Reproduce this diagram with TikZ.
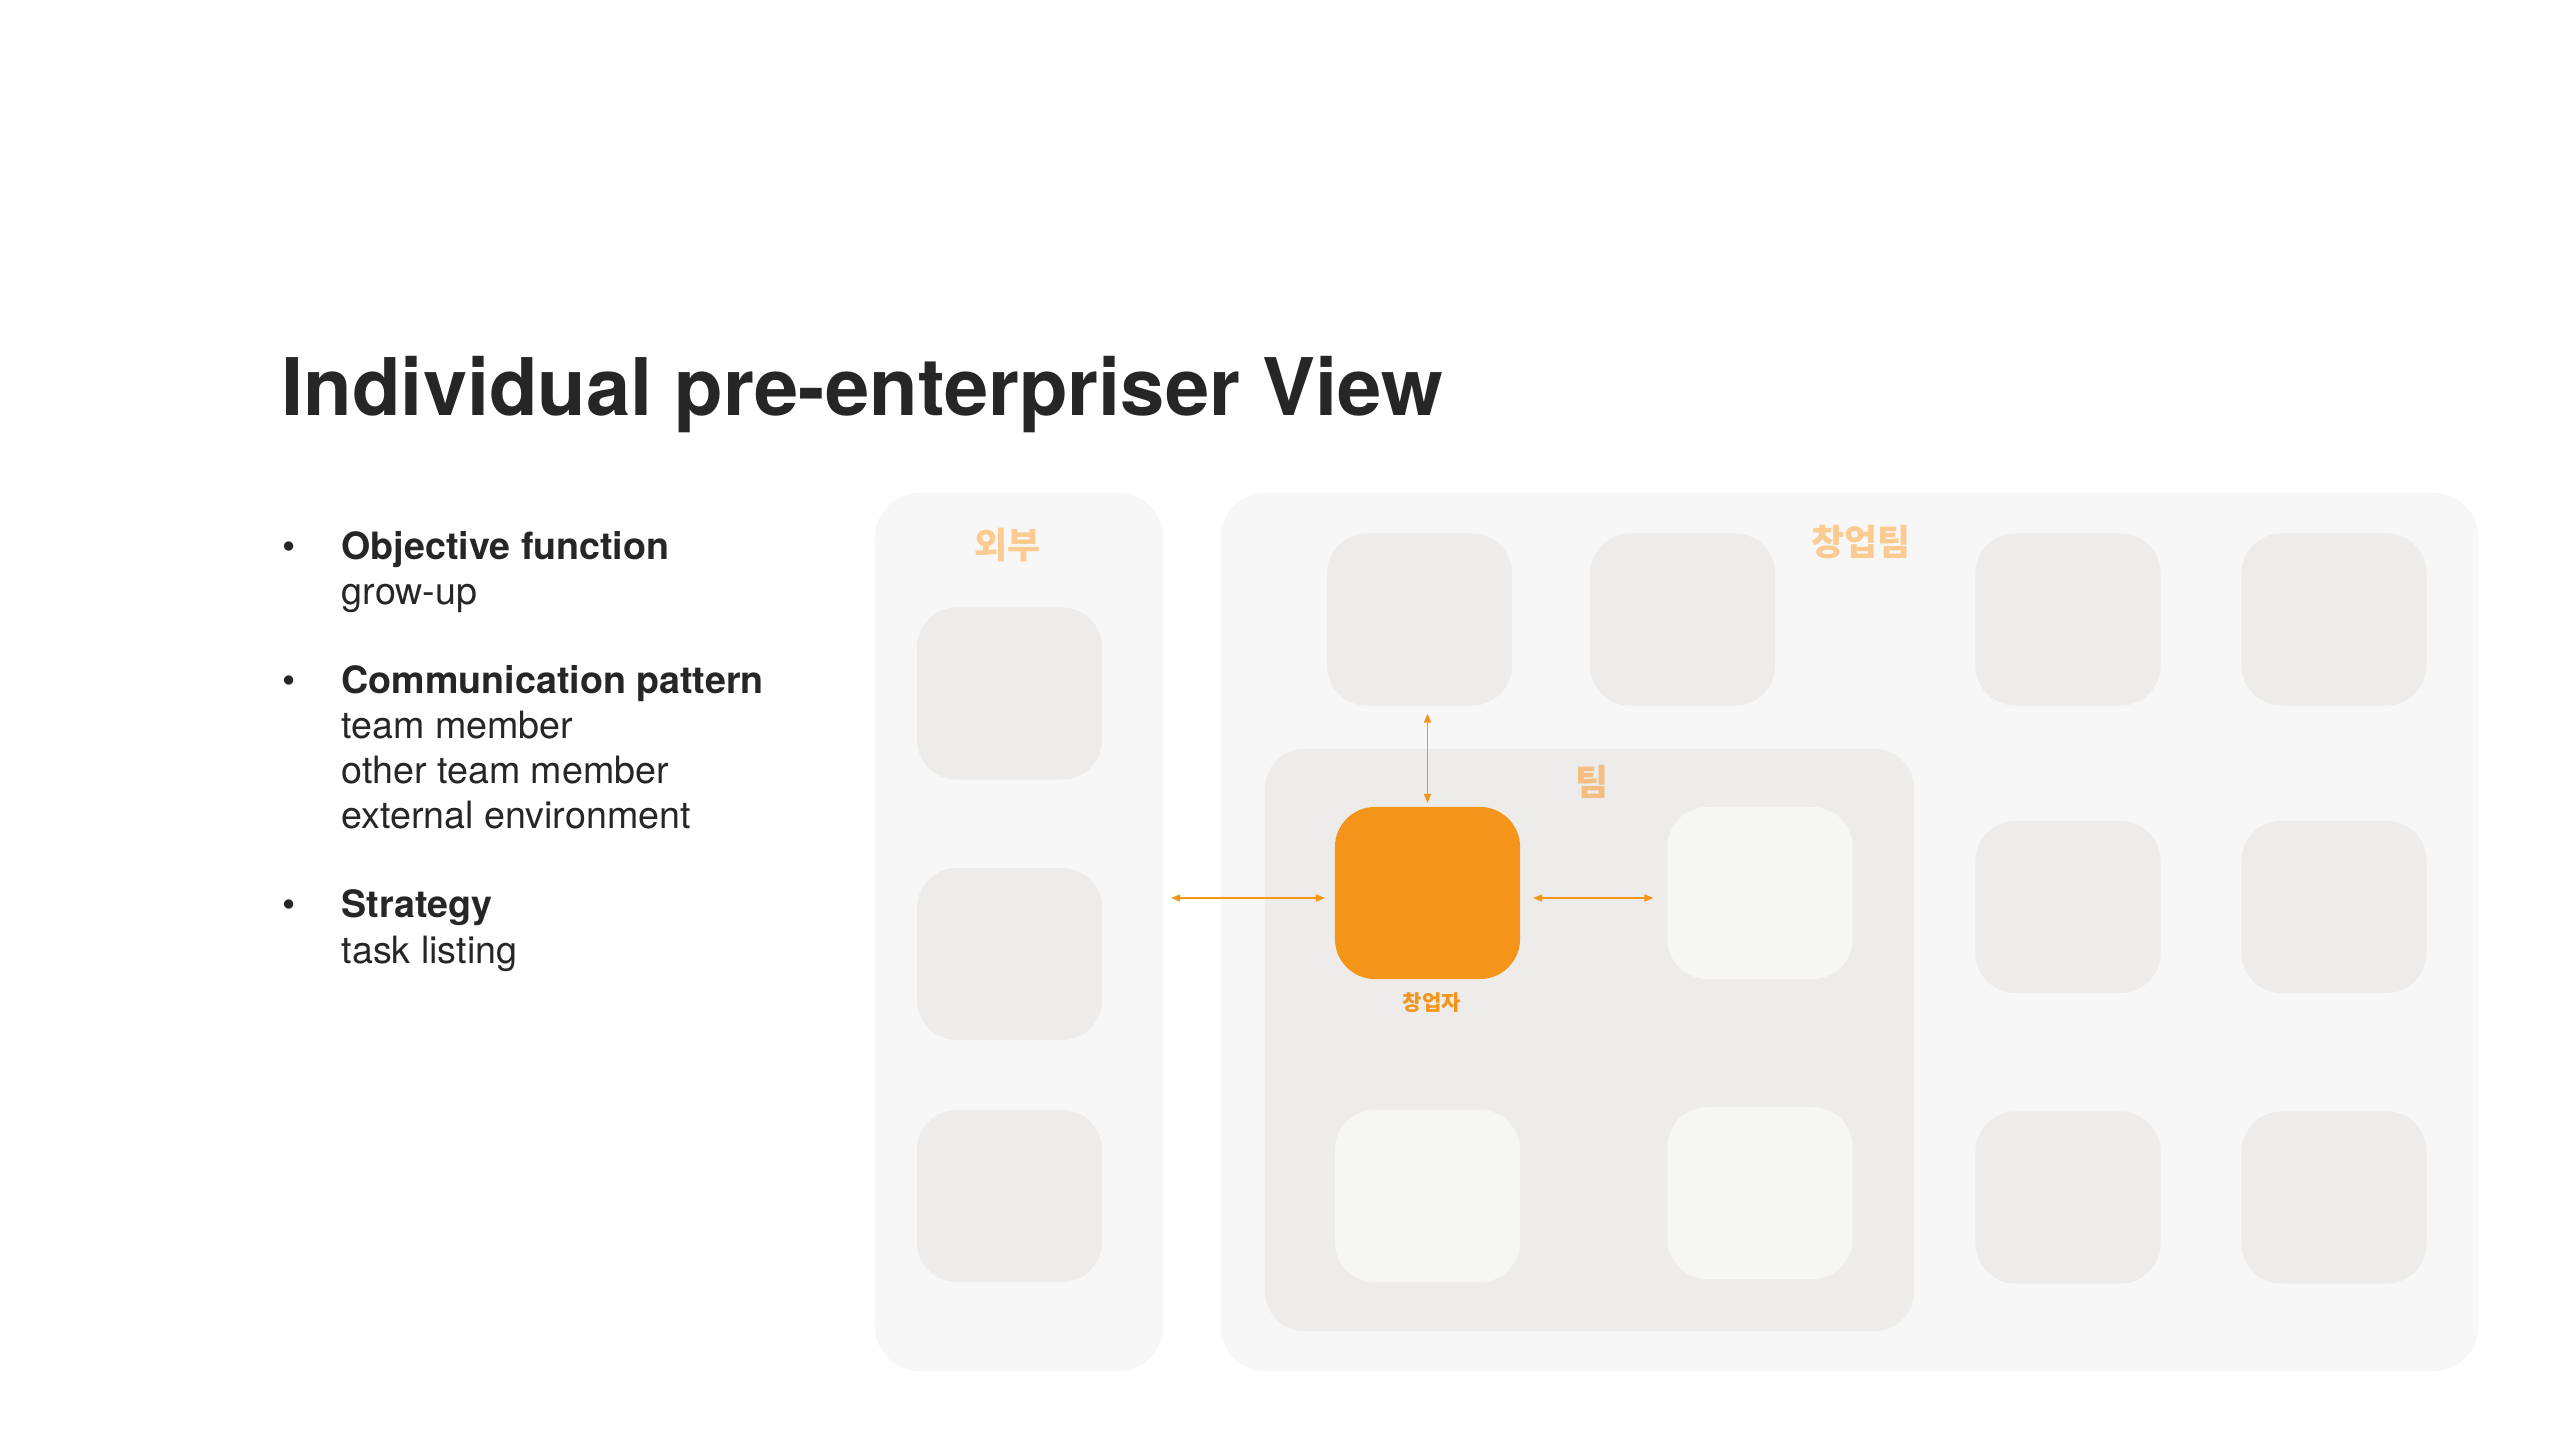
\documentclass[tikz,border=0pt]{standalone}
\usepackage{fontspec}
\setmainfont{TeX Gyre Heros}
\newfontfamily\kr{Noto Sans CJK KR}
\usetikzlibrary{arrows.meta}

\definecolor{ink}{HTML}{262626}
\definecolor{panelgray}{HTML}{F7F7F7}
\definecolor{tilegray}{HTML}{EDECEA}
\definecolor{tilelight}{HTML}{F6F6F5}
\definecolor{founderorange}{HTML}{F4951A}
\definecolor{labelorange}{HTML}{FBCB91}
\definecolor{teamorange}{HTML}{F3BE7F}

\newcommand{\bodyfont}{\fontsize{10.7pt}{12.8pt}\selectfont}

\begin{document}
\begin{tikzpicture}[x=0.01cm, y=-0.01cm,
  panel/.style={fill=panelgray, rounded corners=0.45cm, inner sep=0pt, outer sep=0pt},
  tile/.style={fill=tilegray, rounded corners=0.4cm, minimum width=1.85cm,
               minimum height=1.72cm, inner sep=0pt, outer sep=0pt},
  lighttile/.style={tile, fill=tilelight},
  foundertile/.style={tile, fill=founderorange},
  grouplabel/.style={font=\kr\bfseries\fontsize{10.2pt}{12pt}\selectfont, text=labelorange, inner sep=0pt},
  bodyline/.style={anchor=base west, inner sep=0pt, font=\bodyfont, text=ink},
  bulletmark/.style={anchor=base, inner sep=0pt, font=\bodyfont, text=ink},
  link/.style={draw=founderorange, line width=0.45pt,
               arrows={Triangle[length=0.09cm,width=0.07cm]-Triangle[length=0.09cm,width=0.07cm]}}
]
\useasboundingbox[fill=white] (0,0) rectangle (2560,1440);

% title
\node[anchor=base west, inner sep=0pt, text=ink,
      font=\bfseries\fontsize{22.6pt}{26pt}\selectfont] (title) at (281,416)
  {Individual pre-enterpriser View};

% bullet list
\node[bulletmark] (b1) at (289,560) {•};
\node[bodyline] (l1) at (341,560) {\bfseries Objective function};
\node[bodyline] (l2) at (341,605) {grow-up};
\node[bulletmark] (b2) at (289,694) {•};
\node[bodyline] (l3) at (341,694) {\bfseries Communication pattern};
\node[bodyline] (l4) at (341,739) {team member};
\node[bodyline] (l5) at (341,784) {other team member};
\node[bodyline] (l6) at (341,829) {external environment};
\node[bulletmark] (b3) at (289,918) {•};
\node[bodyline] (l7) at (341,918) {\bfseries Strategy};
\node[bodyline] (l8) at (341,963) {task listing};

% outer panels
\node[panel, minimum width=2.88cm, minimum height=8.78cm] (ext) at (1019,932) {};
\node[panel, minimum width=12.57cm, minimum height=8.78cm] (startup) at (1849.5,932) {};
\node[panel, fill=tilegray, rounded corners=0.4cm, minimum width=6.49cm, minimum height=5.82cm] (team) at (1589.5,1040) {};

% external tiles
\node[tile] (e1) at (1009.5,693.5) {};
\node[tile] (e2) at (1009.5,954) {};
\node[tile] (e3) at (1009.5,1196) {};

% start-up team tiles
\node[tile] (s1) at (1419.5,619.5) {};
\node[tile] (s2) at (1682.5,619.5) {};
\node[tile] (s3) at (2068,619.5) {};
\node[tile] (s4) at (2334,619.5) {};
\node[tile] (s5) at (2068,907) {};
\node[tile] (s6) at (2334,907) {};
\node[tile] (s7) at (2068,1197.5) {};
\node[tile] (s8) at (2334,1197.5) {};

% team tiles
\node[foundertile] (founder) at (1427.5,893) {};
\node[lighttile] (t1) at (1760,893) {};
\node[lighttile] (t2) at (1427.5,1196) {};
\node[lighttile] (t3) at (1760,1193) {};

% labels
\node[grouplabel] (extlabel) at (1007,545) {외부};
\node[grouplabel] (startuplabel) at (1861,542) {창업팀};
\node[grouplabel, text=teamorange] (teamlabel) at (1592,782) {팀};
\node[inner sep=0pt, text=founderorange, font=\kr\bfseries\fontsize{6pt}{7pt}\selectfont]
  (founderlabel) at (1432,1003) {창업자};

% connectors (horizontal ones run a little below the founder's centre line)
\coordinate (fw) at ([yshift=-0.05cm]founder.west);
\coordinate (fe) at ([yshift=-0.05cm]founder.east);
\draw[link, shorten <=0.08cm, shorten >=0.1cm] (ext.east |- fw) -- (fw);
\draw[link, shorten <=0.13cm, shorten >=0.14cm] (fe) -- (t1.west |- fe);
\draw[link, shorten <=0.08cm, shorten >=0.04cm] (founder.north |- s1.south) -- (founder.north);
\end{tikzpicture}
\end{document}
